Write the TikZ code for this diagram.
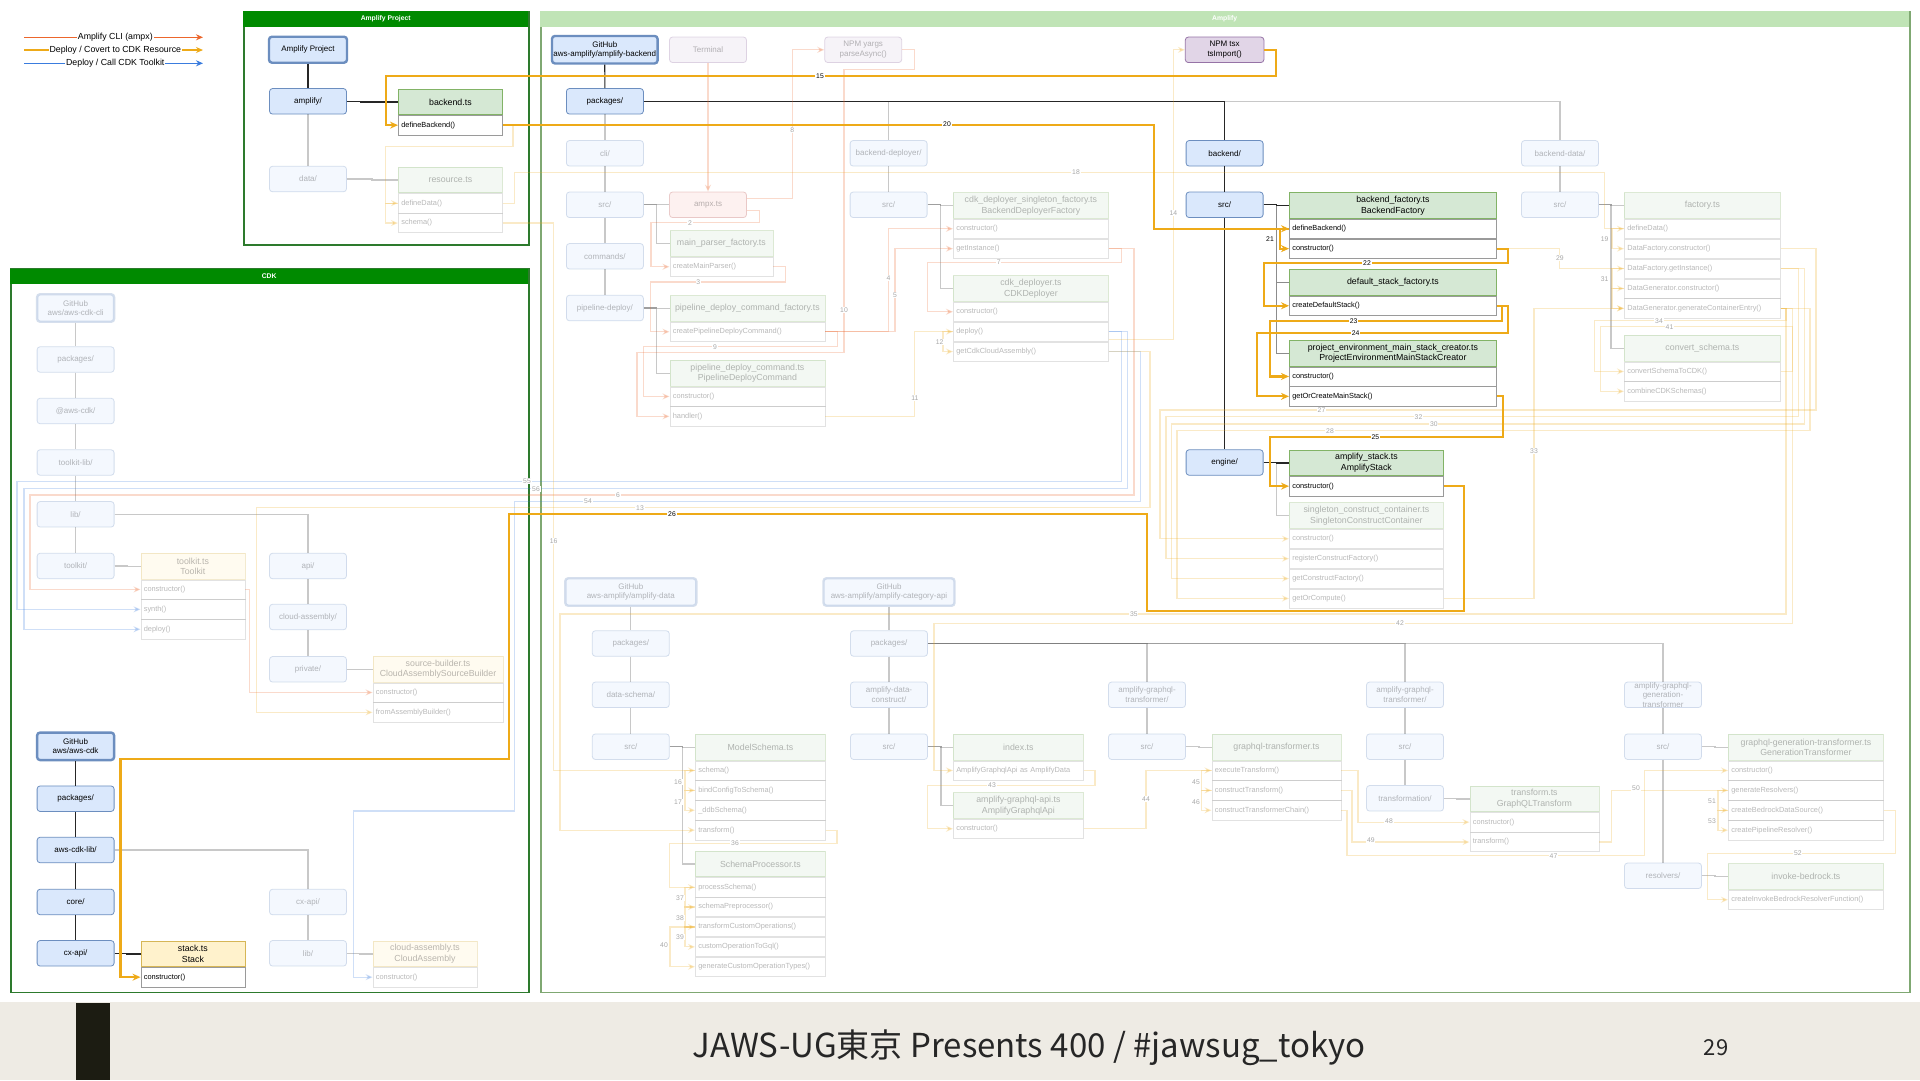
\documentclass[tikz,border=0pt]{standalone}
\usepackage{fontspec}
\setmainfont{Liberation Sans}
\newfontfamily\jpfont{Noto Sans CJK JP}
\usetikzlibrary{arrows.meta, positioning, calc}

\definecolor{ampxC}{RGB}{236,102,44}
\definecolor{deployC}{RGB}{238,170,24}
\definecolor{cdkC}{RGB}{58,124,222}
\definecolor{fdraw}{HTML}{6C8EBF}
\definecolor{ffill}{HTML}{DAE8FC}
\definecolor{gdraw}{HTML}{82B366}
\definecolor{gfill}{HTML}{D5E8D4}
\definecolor{ydraw}{HTML}{D6B656}
\definecolor{yfill}{HTML}{FFF2CC}
\definecolor{pdraw}{HTML}{9673A6}
\definecolor{pfill}{HTML}{E1D5E7}
\definecolor{rdraw}{HTML}{B85450}
\definecolor{rfill}{HTML}{F8CECC}
\definecolor{rowline}{HTML}{9A9A9A}
\definecolor{darkgrn}{HTML}{008A00}
\definecolor{boxgrn}{HTML}{2D7A2D}
\definecolor{ampgrn}{HTML}{C0E4B6}
\definecolor{ampbdr}{HTML}{7FA872}
\definecolor{footbg}{HTML}{EEEBE4}
\definecolor{footbar}{HTML}{1C1C12}

\newcommand{\dgfold}{\fontsize{8}{9.5}\selectfont}
\newcommand{\dghead}{\fontsize{8.8}{10.8}\selectfont}
\newcommand{\dgrow}{\fontsize{7.4}{8.5}\selectfont}
\newcommand{\dgnum}{\fontsize{6.8}{8}\selectfont}
\newcommand{\dgtitle}{\fontsize{6.8}{8}\selectfont\bfseries}
\newcommand{\dglegend}{\fontsize{8.8}{10}\selectfont}

\begin{document}
\begin{tikzpicture}[x=1pt, y=-1pt,
  folder/.style={draw=fdraw, fill=ffill, rounded corners=3pt, line width=0.8pt,
    minimum width=77pt, minimum height=25.5pt, inner sep=1pt, align=center, font=\dgfold},
  hub/.style={folder, line width=2.4pt, minimum height=27.5pt},
  tool/.style={folder, draw=pdraw, fill=pfill},
  entry/.style={folder, draw=rdraw, fill=rfill},
  clshd/.style={draw=gdraw, fill=gfill, line width=0.8pt, minimum width=#1, minimum height=25.7pt,
    inner sep=1pt, align=center, font=\dghead, anchor=north west},
  yclshd/.style={clshd=#1, draw=ydraw, fill=yfill},
  mrow/.style={draw=rowline, fill=white, line width=0.6pt, minimum height=19.3pt, text width=#1,
    inner xsep=3pt, inner ysep=0pt, align=left, font=\dgrow, anchor=north west},
  faded/.style={opacity=0.28},
  cont/.style={draw=#1, line width=1.6pt, anchor=north west, inner sep=0pt},
  conthd/.style={fill=#1, anchor=north west, minimum height=15.5pt, inner sep=0pt,
    font=\dgtitle, text=white},
  tree/.style={draw=black!85, line width=1.2pt},
  ltree/.style={draw=black!45, line width=1pt},
  ftree/.style={tree, opacity=0.25},
  ba/.style={draw=deployC, line width=2.2pt, -{Stealth[length=8pt,width=7pt]}},
  fa/.style={draw=deployC, line width=1.2pt, opacity=0.24, -{Stealth[length=7pt,width=6pt]}},
  fo/.style={fa, draw=ampxC},
  fb/.style={fa, draw=cdkC},
  elab/.style={fill=white, inner sep=0.8pt, font=\dgnum},
  flab/.style={elab, text opacity=0.35},
]
\useasboundingbox (0,0) rectangle (1920,1080);
\fill[white] (0,0) rectangle (1920,1002);

% フッター
\fill[footbg] (0,1002) rectangle (1920,1080);
\fill[footbar] (76,1003) rectangle (110,1080);
\node[font=\jpfont\fontsize{33}{40}\selectfont, text=black!85] (foot) at (1029,1048)
  {JAWS-UG東京 Presents 400 / \#jawsug\_tokyo};
\node[font=\jpfont\fontsize{22}{26}\selectfont, text=black!85] (pgno) at (1716,1048) {29};

% 凡例
\coordinate (lg1a) at (24,37.3); \coordinate (lg1b) at (203,37.3);
\coordinate (lg2a) at (24,50);   \coordinate (lg2b) at (203,50);
\coordinate (lg3a) at (24,63.3); \coordinate (lg3b) at (203,63.3);
\draw[ampxC, line width=1.3pt, -{Stealth[length=7pt,width=6pt]}] (lg1a) -- (lg1b)
  node[pos=0.51, fill=white, inner sep=1pt, font=\dglegend, text=black] (lg1) {Amplify CLI (ampx)};
\draw[deployC, line width=1.3pt, -{Stealth[length=7pt,width=6pt]}] (lg2a) -- (lg2b)
  node[pos=0.51, fill=white, inner sep=1pt, font=\dglegend, text=black] (lg2) {Deploy / Covert to CDK Resource};
\draw[cdkC, line width=1.3pt, -{Stealth[length=7pt,width=6pt]}] (lg3a) -- (lg3b)
  node[pos=0.51, fill=white, inner sep=1pt, font=\dglegend, text=black] (lg3) {Deploy / Call CDK Toolkit};

% コンテナ
\node[cont=boxgrn, minimum width=285pt, minimum height=233pt] (apbox) at (243,11) {};
\node[conthd=darkgrn, minimum width=285pt] (aphd) at (apbox.north west) {Amplify Project};
\node[cont=boxgrn, minimum width=518pt, minimum height=723.4pt] (cdkbox) at (10,268.3) {};
\node[conthd=darkgrn, minimum width=518pt] (cdkhd) at (cdkbox.north west) {CDK};
\node[cont=ampbdr, minimum width=1369pt, minimum height=980.5pt] (ampbox) at (540,11) {};
\node[conthd=ampgrn, minimum width=1369pt] (amphd) at (ampbox.north west) {Amplify};

% Amplify Project
\node[hub, minimum height=26pt, minimum width=78pt] (ap-hub) at (308,49.7) {Amplify Project};
\node[folder] (ap-amp) at (308,101.3) {amplify/};
\node[folder, faded] (ap-data) at (308,179) {data/};
\node[clshd=104pt] (bt) at (398,88.7) {backend.ts};
\node[mrow=98pt] (bt-def) at (bt.south west) {defineBackend()};
\node[clshd=104pt, faded] (rs) at (398,166.7) {resource.ts};
\node[mrow=98pt, faded] (rs-dd) at (rs.south west) {defineData()};
\node[mrow=98pt, faded] (rs-sch) at (rs-dd.south west) {schema()};

% CDK
\node[hub, faded] (cli-hub) at (75.6,308) {GitHub\\aws/aws-cdk-cli};
\node[folder, faded] (cli-pkg) at (75.6,359.5) {packages/};
\node[folder, faded] (cli-awscdk) at (75.6,411) {@aws-cdk/};
\node[folder, faded] (cli-tkl) at (75.6,462.5) {toolkit-lib/};
\node[folder, faded] (cli-lib) at (75.6,514.3) {lib/};
\node[folder, faded] (cli-tk) at (75.6,566) {toolkit/};
\node[yclshd=104pt, faded] (tk) at (140.5,553) {toolkit.ts\\Toolkit};
\node[mrow=98pt, faded] (tk-con) at (tk.south west) {constructor()};
\node[mrow=98pt, faded] (tk-syn) at (tk-con.south west) {synth()};
\node[mrow=98pt, faded] (tk-dep) at (tk-syn.south west) {deploy()};
\node[folder, faded] (cli-api) at (308,566) {api/};
\node[folder, faded] (cli-ca) at (308,617) {cloud-assembly/};
\node[folder, faded] (cli-priv) at (308,669.3) {private/};
\node[yclshd=130pt, faded] (sb) at (372.6,656) {source-builder.ts\\CloudAssemblySourceBuilder};
\node[mrow=124pt, faded] (sb-con) at (sb.south west) {constructor()};
\node[mrow=124pt, faded] (sb-fab) at (sb-con.south west) {fromAssemblyBuilder()};
\node[hub] (cdk-hub) at (75.6,746.3) {GitHub\\aws/aws-cdk};
\node[folder] (cdk-pkg) at (75.6,798.7) {packages/};
\node[folder] (cdk-lib) at (75.6,850) {aws-cdk-lib/};
\node[folder] (cdk-core) at (75.6,902) {core/};
\node[folder] (cdk-cx) at (75.6,953.3) {cx-api/};
\node[yclshd=104pt] (st) at (140.5,940.7) {stack.ts\\Stack};
\node[mrow=98pt] (st-con) at (st.south west) {constructor()};
\node[folder, faded] (cdk-cxf) at (308,902) {cx-api/};
\node[folder, faded] (cdk-libf) at (308,953.3) {lib/};
\node[yclshd=104pt, faded] (ca) at (372.6,940.7) {cloud-assembly.ts\\CloudAssembly};
\node[mrow=98pt, faded] (ca-con) at (ca.south west) {constructor()};

% Amplify（上段）
\node[hub, minimum width=105.6pt] (bk-hub) at (604.8,49.7) {GitHub\\aws-amplify/amplify-backend};
\node[tool, faded] (term) at (708,49.8) {Terminal};
\node[tool, faded] (yargs) at (863.2,49.8) {NPM yargs\\parseAsync()};
\node[tool, minimum width=78.6pt] (tsx) at (1224.6,49.8) {NPM tsx\\tsImport()};
\node[folder] (bk-pkg) at (604.9,101.3) {packages/};
\node[folder, faded] (bk-cli) at (604.9,153.3) {cli/};
\node[folder, faded] (bk-clisrc) at (604.9,204.8) {src/};
\node[folder, faded] (bk-cmd) at (604.9,256.3) {commands/};
\node[folder, faded] (bk-pd) at (604.9,308) {pipeline-deploy/};
\node[entry, faded] (ampx) at (708,204.8) {ampx.ts};
\node[clshd=103pt, faded] (mp) at (669.5,230.3) {main\_parser\_factory.ts};
\node[mrow=97pt, faded] (mp-cmp) at (mp.south west) {createMainParser()};
\node[clshd=155pt, faded] (pdf) at (669.5,295.3) {pipeline\_deploy\_command\_factory.ts};
\node[mrow=149pt, faded] (pdf-cpd) at (pdf.south west) {createPipelineDeployCommand()};
\node[clshd=155pt, faded] (pdc) at (669.5,360) {pipeline\_deploy\_command.ts\\PipelineDeployCommand};
\node[mrow=149pt, faded] (pdc-con) at (pdc.south west) {constructor()};
\node[mrow=149pt, faded] (pdc-han) at (pdc-con.south west) {handler()};
\node[folder, faded] (bd) at (888.6,153.3) {backend-deployer/};
\node[folder, faded] (bdsrc) at (888.6,204.8) {src/};
\node[clshd=155pt, faded] (bdf) at (953,192.3) {cdk\_deployer\_singleton\_factory.ts\\BackendDeployerFactory};
\node[mrow=149pt, faded] (bdf-con) at (bdf.south west) {constructor()};
\node[mrow=149pt, faded] (bdf-gi) at (bdf-con.south west) {getInstance()};
\node[clshd=155pt, faded] (cd) at (953,275.3) {cdk\_deployer.ts\\CDKDeployer};
\node[mrow=149pt, faded] (cd-con) at (cd.south west) {constructor()};
\node[mrow=149pt, faded] (cd-dep) at (cd-con.south west) {deploy()};
\node[mrow=149pt, faded] (cd-gca) at (cd-dep.south west) {getCdkCloudAssembly()};
\node[folder] (be) at (1224.6,153.3) {backend/};
\node[folder] (besrc) at (1224.6,204.8) {src/};
\node[folder] (eng) at (1224.6,462.5) {engine/};
\node[clshd=207pt] (bf) at (1289,192.3) {backend\_factory.ts\\BackendFactory};
\node[mrow=201pt] (bf-def) at (bf.south west) {defineBackend()};
\node[mrow=201pt] (bf-con) at (bf-def.south west) {constructor()};
\node[clshd=207pt] (dsf) at (1289,269.3) {default\_stack\_factory.ts};
\node[mrow=201pt] (dsf-cds) at (dsf.south west) {createDefaultStack()};
\node[clshd=207pt] (pe) at (1289,340) {project\_environment\_main\_stack\_creator.ts\\ProjectEnvironmentMainStackCreator};
\node[mrow=201pt] (pe-con) at (pe.south west) {constructor()};
\node[mrow=201pt] (pe-gcm) at (pe-con.south west) {getOrCreateMainStack()};
\node[clshd=154pt] (as) at (1289,449.7) {amplify\_stack.ts\\AmplifyStack};
\node[mrow=148pt] (as-con) at (as.south west) {constructor()};
\node[clshd=154pt, faded] (sc) at (1289,502.3) {singleton\_construct\_container.ts\\SingletonConstructContainer};
\node[mrow=148pt, faded] (sc-con) at (sc.south west) {constructor()};
\node[mrow=148pt, faded] (sc-reg) at (sc-con.south west) {registerConstructFactory()};
\node[mrow=148pt, faded] (sc-gcf) at (sc-reg.south west) {getConstructFactory()};
\node[mrow=148pt, faded] (sc-goc) at (sc-gcf.south west) {getOrCompute()};
\node[folder, faded] (bdt) at (1560,153.3) {backend-data/};
\node[folder, faded] (bdtsrc) at (1560,204.8) {src/};
\node[clshd=156pt, faded] (fac) at (1624,192.3) {factory.ts};
\node[mrow=150pt, faded] (fac-dd) at (fac.south west) {defineData()};
\node[mrow=150pt, faded] (fac-dfc) at (fac-dd.south west) {DataFactory.constructor()};
\node[mrow=150pt, faded] (fac-dfg) at (fac-dfc.south west) {DataFactory.getInstance()};
\node[mrow=150pt, faded] (fac-dgc) at (fac-dfg.south west) {DataGenerator.constructor()};
\node[mrow=150pt, faded] (fac-gce) at (fac-dgc.south west) {DataGenerator.generateContainerEntry()};
\node[clshd=156pt, faded] (cs) at (1624,335) {convert\_schema.ts};
\node[mrow=150pt, faded] (cs-cst) at (cs.south west) {convertSchemaToCDK()};
\node[mrow=150pt, faded] (cs-ccs) at (cs-cst.south west) {combineCDKSchemas()};

% Amplify（下段）
\node[hub, faded, minimum width=131pt] (dt-hub) at (630.8,592) {GitHub\\aws-amplify/amplify-data};
\node[hub, faded, minimum width=131pt] (api-hub) at (889,592) {GitHub\\aws-amplify/amplify-category-api};
\node[folder, faded] (dt-pkg) at (630.8,643.5) {packages/};
\node[folder, faded] (dt-ds) at (630.8,694.8) {data-schema/};
\node[folder, faded] (dt-src) at (630.8,746.7) {src/};
\node[clshd=130pt, faded] (ms) at (695,734) {ModelSchema.ts};
\node[mrow=124pt, faded] (ms-sch) at (ms.south west) {schema()};
\node[mrow=124pt, faded] (ms-bcs) at (ms-sch.south west) {bindConfigToSchema()};
\node[mrow=124pt, faded] (ms-ddb) at (ms-bcs.south west) {\_ddbSchema()};
\node[mrow=124pt, faded] (ms-tr) at (ms-ddb.south west) {transform()};
\node[clshd=130pt, faded] (sp) at (695,850.7) {SchemaProcessor.ts};
\node[mrow=124pt, faded] (sp-ps) at (sp.south west) {processSchema()};
\node[mrow=124pt, faded] (sp-spp) at (sp-ps.south west) {schemaPreprocessor()};
\node[mrow=124pt, faded] (sp-tco) at (sp-spp.south west) {transformCustomOperations()};
\node[mrow=124pt, faded] (sp-cog) at (sp-tco.south west) {customOperationToGql()};
\node[mrow=124pt, faded] (sp-gct) at (sp-cog.south west) {generateCustomOperationTypes()};
\node[folder, faded] (api-pkg) at (889,643.5) {packages/};
\node[folder, faded] (api-dc) at (889,694.8) {amplify-data-\\construct/};
\node[folder, faded] (api-src) at (889,746.7) {src/};
\node[clshd=130pt, faded] (ix) at (953,734) {index.ts};
\node[mrow=124pt, faded] (ix-row) at (ix.south west) {AmplifyGraphqlApi as AmplifyData};
\node[clshd=130pt, faded] (ag) at (953,792.3) {amplify-graphql-api.ts\\AmplifyGraphqlApi};
\node[mrow=124pt, faded] (ag-con) at (ag.south west) {constructor()};
\node[folder, faded] (gt-dir) at (1147,694.8) {amplify-graphql-\\transformer/};
\node[folder, faded] (gt-src) at (1147,746.7) {src/};
\node[clshd=129pt, faded] (gt) at (1211.5,734) {graphql-transformer.ts};
\node[mrow=123pt, faded] (gt-et) at (gt.south west) {executeTransform()};
\node[mrow=123pt, faded] (gt-ct) at (gt-et.south west) {constructTransform()};
\node[mrow=123pt, faded] (gt-ctc) at (gt-ct.south west) {constructTransformerChain()};
\node[folder, faded] (tc-dir) at (1405,694.8) {amplify-graphql-\\transformer/};
\node[folder, faded] (tc-src) at (1405,746.7) {src/};
\node[folder, faded] (tc-tr) at (1405,798.3) {transformation/};
\node[clshd=129pt, faded] (tf) at (1469.5,785.7) {transform.ts\\GraphQLTransform};
\node[mrow=123pt, faded] (tf-con) at (tf.south west) {constructor()};
\node[mrow=123pt, faded] (tf-tr) at (tf-con.south west) {transform()};
\node[folder, faded] (gen-dir) at (1663,694.8) {};
\node[faded, align=center, font=\dgfold, inner sep=0pt] (gen-dirt) at (gen-dir) {amplify-graphql-\\generation-\\transformer};
\node[folder, faded] (gen-src) at (1663,746.7) {src/};
\node[folder, faded] (gen-res) at (1663,875.8) {resolvers/};
\node[clshd=155pt, faded] (gg) at (1728,734) {graphql-generation-transformer.ts\\GenerationTransformer};
\node[mrow=149pt, faded] (gg-con) at (gg.south west) {constructor()};
\node[mrow=149pt, faded] (gg-gr) at (gg-con.south west) {generateResolvers()};
\node[mrow=149pt, faded] (gg-cbd) at (gg-gr.south west) {createBedrockDataSource()};
\node[mrow=149pt, faded] (gg-cpr) at (gg-cbd.south west) {createPipelineResolver()};
\node[clshd=155pt, faded] (ib) at (1728,863.3) {invoke-bedrock.ts};
\node[mrow=149pt, faded] (ib-row) at (ib.south west) {createInvokeBedrockResolverFunction()};

% ディレクトリ構造（薄）
\draw[ftree] (ap-amp) -- (ap-data);
\draw[ftree] (ap-data.east) -- ++(25,0) |- (rs.west);
\draw[ftree] (cli-hub) -- (cli-pkg) -- (cli-awscdk) -- (cli-tkl) -- (cli-lib) -- (cli-tk);
\draw[ftree] (cli-tk.east) -- ++(13,0) |- (tk.west);
\draw[ftree] (cli-lib.east) -| (cli-api.north);
\draw[ftree] (cli-api) -- (cli-ca) -- (cli-priv);
\draw[ftree] (cli-priv.east) -- ++(13,0) |- (sb.west);
\draw[ftree] (cdk-lib.east) -| (cdk-cxf.north);
\draw[ftree] (cdk-cxf) -- (cdk-libf);
\draw[ftree] (cdk-libf.east) -- ++(13,0) |- (ca.west);
\draw[ftree] (bk-pkg) -- (bk-cli) -- (bk-clisrc) -- (bk-cmd) -- (bk-pd);
\draw[ftree] (bk-clisrc) -- (ampx);
\draw[ftree] (bk-clisrc.east) -- ++(13,0) |- (mp.west);
\draw[ftree] (bk-pd.east) -- ++(13,0) |- (pdf.west);
\draw[ftree] (bk-pd.east) -- ++(13,0) |- (pdc.west);
\draw[ftree] (bk-pkg.east) -| (bdt.north);
\draw[ftree] (bk-pkg.east) -| (bd.north);
\draw[ftree] (bd) -- (bdsrc);
\draw[ftree] (bdsrc.east) -- ++(13,0) |- (bdf.west);
\draw[ftree] (bdsrc.east) -- ++(13,0) |- (cd.west);
\draw[ftree] (bdt) -- (bdtsrc);
\draw[ftree] (bdtsrc.east) -- ++(12,0) |- (fac.west);
\draw[ftree] (bdtsrc.east) -- ++(12,0) |- (cs.west);
\draw[ftree] (eng.east) -- ++(13,0) |- (sc.west);
\draw[ftree] (dt-hub) -- (dt-pkg) -- (dt-ds) -- (dt-src);
\draw[ftree] (dt-src.east) -- ++(13,0) |- (ms.west);
\draw[ftree] (dt-src.east) -- ++(13,0) |- (sp.west);
\draw[ftree] (api-hub) -- (api-pkg) -- (api-dc) -- (api-src);
\draw[ftree] (api-src.east) -- ++(13,0) |- (ix.west);
\draw[ftree] (api-src.east) -- ++(13,0) |- (ag.west);
\draw[ftree] (api-pkg.east) -| (gen-dir.north);
\draw[ftree] (api-pkg.east) -| (tc-dir.north);
\draw[ftree] (api-pkg.east) -| (gt-dir.north);
\draw[ftree] (gt-dir) -- (gt-src);
\draw[ftree] (gt-src.east) -- ++(13,0) |- (gt.west);
\draw[ftree] (tc-dir) -- (tc-src) -- (tc-tr);
\draw[ftree] (tc-tr.east) -- ++(13,0) |- (tf.west);
\draw[ftree] (gen-dir) -- (gen-src) -- (gen-res);
\draw[ftree] (gen-src.east) -- ++(13,0) |- (gg.west);
\draw[ftree] (gen-res.east) -- ++(13,0) |- (ib.west);

% ディレクトリ構造（濃）
\draw[tree] (ap-hub) -- (ap-amp);
\draw[tree] (ap-amp.east) -- ++(14,0) |- (bt.west);
\draw[tree] (cdk-hub) -- (cdk-pkg) -- (cdk-lib) -- (cdk-core) -- (cdk-cx);
\draw[tree] (cdk-cx.east) -- ++(12,0) |- (st.west);
\draw[tree] (bk-hub) -- (bk-pkg);
\draw[tree] (bk-pkg.east) -| (be.north);
\draw[tree] (be) -- (besrc);
\draw[tree] (besrc) -- (eng);
\draw[ltree] (besrc.east) -- ++(13,0) |- (dsf.west);
\draw[ltree] (besrc.east) -- ++(13,0) |- (pe.west);
\draw[tree] (besrc.east) -- ++(13,0) |- (bf.west);
\draw[tree] (eng.east) -- ++(13,0) |- (as.west);

% 呼び出し（薄）
\draw[fb] (cd-dep.east) -| (1121.7,481.7) -- (17,481.7) |- (tk-syn.west);
\draw[fb] (cd-dep.east) -| (1127.3,488.3) -- (24,488.3) |- (tk-dep.west);
\draw[fo] (bdf-gi.east) -| (1134,495) -- (30,495) |- (tk-con.west);
\draw[fb] (cd-gca.east) -| (1140.5,501.3) -- (514.8,501.3) -- (514.8,811) -- (353.6,811) |- (ca-con.west);
\draw[fa] (cd-gca.east) -| (1150,507.7) -- (256.5,507.7) |- (sb-fab.west);
\draw[fo] (tk-con.east) -| (249.7,650) |- (sb-con.west);
\draw[fo] (term) -- (ampx);
\draw[fo] ([yshift=6pt]ampx.east) -| (792.3,100) |- (yargs.west);
\draw[fo] ([yshift=-6pt]ampx.east) -| (759.4,222.7) -- (651,222.7) |- (mp-cmp.west);
\draw[fo] (mp-cmp.east) -| (785.3,282) -- (650.2,282) |- (pdf-cpd.west);
\draw[fo] (pdf-cpd.east) -| (837.8,346.7) -- (643.6,346.7) |- (pdc-con.west);
\draw[fo] (pdf-cpd.east) -| (888.5,280) |- (bdf-con.west);
\draw[fo] (pdf-cpd.east) -| (895,290) |- (bdf-gi.west);
\draw[fo] (yargs.east) -| (914.8,69.3) -- (844,69.3) -- (844,352.7) -- (637,352.7) |- (pdc-han.west);
\draw[fa] (pdc-han.east) -| (914.8,380) |- (cd-dep.west);
\draw[fo] (bdf-gi.east) -| (1121.7,262.3) -- (927.3,262.3) |- (cd-con.west);
\draw[fa] (cd-dep.west) -- ++(-10,0) |- (cd-gca.west);
\draw[fa] ([yshift=-8pt]cd-dep.east) -| (1173.3,200) |- (tsx.west);
\draw[fa] (bt-def.east) -| (513,146.7) -- (385.7,146.7) |- (rs-dd.west);
\draw[fa] (rs-dd.west) -- ++(-12.3,0) |- (rs-sch.west);
\draw[fa] (rs-dd.east) -| (514.8,172.3) -- (1604.7,172.3) |- (fac-dd.west);
\draw[fa] (rs-sch.east) -| (553.7,500) |- (ms-sch.west);
\draw[fa] (fac-dd.west) -- ++(-12,0) |- (fac-dfc.west);
\draw[fa] (bf-con.east) -| (1559.8,255) |- (fac-dfg.west);
\draw[fa] (fac-dfg.west) -- ++(-12,0) |- (fac-dgc.west);
\draw[fa] (fac-dgc.west) -- ++(-12,0) |- (fac-gce.west);
\draw[fa] (fac-gce.east) -| (1786,320.7) -- (1594.5,320.7) |- (cs-cst.west);
\draw[fa] (cs-cst.east) -| (1792.4,326.7) -- (1600.6,326.7) |- (cs-ccs.west);
\draw[fa] (fac-dfc.east) -| (1816,410) -- (1160,410) |- (sc-con.west);
\draw[fa] (fac-dfg.east) -| (1798.6,416.7) -- (1166,416.7) |- (sc-reg.west);
\draw[fa] (fac-dfg.east) -| (1804.7,424) -- (1171.7,424) |- (sc-gcf.west);
\draw[fa] (fac-gce.east) -| (1810,430.7) -- (1177,430.7) |- (sc-goc.west);
\draw[fa] (sc-goc.east) -| (1534,450) |- (fac-gce.west);
\draw[fa] (fac-gce.east) -| (1786,614) -- (560,614) |- (ms-tr.west);
\draw[fa] (fac-gce.east) -| (1792.4,623.3) -- (934,623.3) |- (ix-row.west);
\draw[fa] (ms-tr.east) -| (837,843.3) -- (669.5,843.3) |- (sp-ps.west);
\draw[fa] (ms-sch.west) -- ++(-10,0) |- (ms-bcs.west);
\draw[fa] (ms-bcs.west) -- ++(-10,0) |- (ms-ddb.west);
\draw[fa] (sp-ps.west) -- ++(-10,0) |- (sp-spp.west);
\draw[fa] (sp-spp.west) -- ++(-10,0) |- (sp-tco.west);
\draw[fa] (sp-tco.west) -- ++(-10,0) |- (sp-cog.west);
\draw[fa] (sp-tco.west) -- ++(-25,0) |- (sp-gct.west);
\draw[fa] (ix-row.east) -| (1095,785.3) -- (927.5,785.3) |- (ag-con.west);
\draw[fa] (ag-con.east) -| (1146,800) |- (gt-et.west);
\draw[fa] (gt-et.west) -- ++(-10,0) |- (gt-ct.west);
\draw[fa] (gt-ct.west) -- ++(-10,0) |- (gt-ctc.west);
\draw[fa] (gt-et.east) -| (1358,800) |- (tf-con.west);
\draw[fa] (gt-ct.east) -| (1352,820) |- (tf-tr.west);
\draw[fa] (gt-ctc.east) -| (1347,855.7) -- (1644.4,855.7) |- (gg-con.west);
\draw[fa] (tf-tr.east) -| (1611.8,820) |- (gg-gr.west);
\draw[fa] (gg-gr.west) -- ++(-10,0) |- (gg-cbd.west);
\draw[fa] (gg-cbd.west) -- ++(-10,0) |- (gg-cpr.west);
\draw[fa] (gg-cbd.east) -| (1895.6,853.3) -- (1707.3,853.3) |- (ib-row.west);

% 呼び出し（デプロイ経路）
\draw[ba] (tsx.east) -| (1275.6,75.7) -- (385.7,75.7) |- (bt-def.west);
\draw[ba] (bt-def.east) -| (1153.7,180) |- (bf-def.west);
\draw[ba] (bf-def.west) -- ++(-9,0) |- (bf-con.west);
\draw[ba] (bf-con.east) -| (1507.8,262.7) -- (1264,262.7) |- (dsf-cds.west);
\draw[ba] (dsf-cds.east) -| (1501.6,320.7) -- (1270,320.7) |- (pe-con.west);
\draw[ba] (dsf-cds.east) -| (1507.8,333.3) -- (1257,333.3) |- (pe-gcm.west);
\draw[ba] (pe-gcm.east) -| (1502.7,436.7) -- (1269.8,436.7) |- (as-con.west);
\draw[ba] (as-con.east) -| (1464,611) -- (1147,611) -- (1147,514.3) -- (509,514.3)
  -- (509,759.3) -- (120.5,759.3) |- (st-con.west);

% 番号
\node[elab] (n15) at (820,75.7) {15};
\node[elab] (n20) at (947,124) {20};
\node[elab] (n21) at (1270,239) {21};
\node[elab] (n22) at (1367,262.7) {22};
\node[elab] (n23) at (1353.7,320.7) {23};
\node[elab] (n24) at (1355.7,333.3) {24};
\node[elab] (n25) at (1375.4,436.7) {25};
\node[elab] (n26) at (672,514.3) {26};
\node[flab] (n55) at (527,481.2) {55};
\node[flab] (n56) at (536,489) {56};
\node[flab] (n6) at (618,495) {6};
\node[flab] (n54) at (588,501.3) {54};
\node[flab] (n13) at (640,507.7) {13};
\node[flab] (n8) at (792.3,130) {8};
\node[flab] (n2) at (690,222.7) {2};
\node[flab] (n3) at (698.3,282) {3};
\node[flab] (n9) at (715,346.7) {9};
\node[flab] (n4) at (888.5,278.3) {4};
\node[flab] (n5) at (895,295) {5};
\node[flab] (n10) at (844,310) {10};
\node[flab] (n11) at (914.8,398.3) {11};
\node[flab] (n7) at (998.7,262.3) {7};
\node[flab] (n12) at (939.6,342.3) {12};
\node[flab] (n14) at (1173.3,213) {14};
\node[flab] (n18) at (1076,172.3) {18};
\node[flab] (n16) at (553.7,540.7) {16};
\node[flab] (n19) at (1604.7,239.3) {19};
\node[flab] (n29) at (1559.8,258) {29};
\node[flab] (n31) at (1604.7,279.3) {31};
\node[flab] (n34) at (1659,320.7) {34};
\node[flab] (n41) at (1669.5,326.7) {41};
\node[flab] (n27) at (1321.5,410) {27};
\node[flab] (n32) at (1418.5,416.7) {32};
\node[flab] (n30) at (1433.8,424) {30};
\node[flab] (n28) at (1330,430.7) {28};
\node[flab] (n33) at (1534,450.7) {33};
\node[flab] (n35) at (1133.8,614) {35};
\node[flab] (n42) at (1400,623.3) {42};
\node[flab] (n36) at (735,843.3) {36};
\node[flab] (n16b) at (678,781.7) {16};
\node[flab] (n17) at (678,801.7) {17};
\node[flab] (n37) at (680,898) {37};
\node[flab] (n38) at (680,917.7) {38};
\node[flab] (n39) at (680,937) {39};
\node[flab] (n40) at (664,945) {40};
\node[flab] (n43) at (992,785.3) {43};
\node[flab] (n44) at (1146,799) {44};
\node[flab] (n45) at (1196,781.7) {45};
\node[flab] (n46) at (1196,801.7) {46};
\node[flab] (n48) at (1389,820.7) {48};
\node[flab] (n49) at (1370.8,840.3) {49};
\node[flab] (n47) at (1553.5,855.7) {47};
\node[flab] (n50) at (1636,788.6) {50};
\node[flab] (n51) at (1712,801) {51};
\node[flab] (n53) at (1712,821) {53};
\node[flab] (n52) at (1797.8,853.3) {52};

\end{tikzpicture}
\end{document}
